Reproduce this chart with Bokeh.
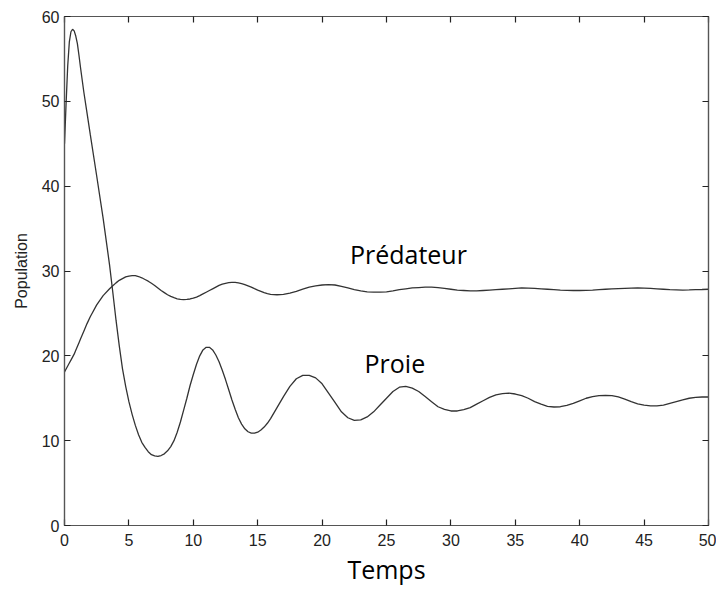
from bokeh.plotting import figure
from bokeh.models import LinearAxis, Label, Range1d, FixedTicker, CustomLabelingPolicy
from bokeh.embed import file_html
from bokeh.resources import INLINE

# ---- data ----
temps = [0, 0.125, 0.25, 0.375, 0.5, 0.625, 0.75, 0.875, 1.0, 1.125, 1.25,
         1.5, 1.75, 2.0, 2.5, 3.0, 3.5, 3.75,
         4.0, 4.25, 4.5, 4.75, 5.0, 5.25, 5.5, 5.75, 6.0, 6.25, 6.5, 6.75, 7.0, 7.25, 7.5, 7.75,
         8.0, 8.25, 8.5, 8.75, 9.0, 9.25, 9.5, 9.75, 10.0, 10.25, 10.5, 10.75, 11.0, 11.25, 11.5, 11.75,
         12.0, 12.25, 12.5, 12.75, 13.0, 13.25, 13.5, 13.75, 14.0, 14.25, 14.5, 14.75, 15.0, 15.25, 15.5, 15.75,
         16.0, 16.5, 17.0, 17.5, 18.0, 18.5, 19.0, 19.5, 20.0, 20.5, 21.0, 21.5, 22.0, 22.5, 23.0, 23.5,
         24.0, 24.5, 25.0, 25.5, 26.0, 26.5, 27.0, 27.5, 28.0, 28.5, 29.0, 29.5, 30.0, 30.5, 31.0, 31.5,
         32.0, 32.5, 33.0, 33.5, 34.0, 34.5, 35.0, 35.5, 36.0, 36.5, 37.0, 37.5, 38.0, 38.5, 39.0, 39.5,
         40.0, 40.5, 41.0, 41.5, 42.0, 42.5, 43.0, 43.5, 44.0, 44.5, 45.0, 45.5, 46.0, 46.5, 47.0, 47.5,
         48.0, 48.5, 49.0, 49.5, 50.0]

proie = [45.0, 49.8, 54.2, 57.0, 58.2, 58.5, 58.3, 57.7, 56.8, 55.4, 53.9,
         51.1, 48.6, 46.1, 41.2, 36.2, 30.7, 27.5,
         24.2, 21.2, 18.5, 16.4, 14.6, 13.1, 11.8, 10.7, 9.8, 9.2, 8.7, 8.35, 8.2, 8.15, 8.25, 8.45,
         8.8, 9.3, 10.0, 11.0, 12.2, 13.6, 15.0, 16.5, 17.8, 19.0, 20.0, 20.7, 21.0, 21.0, 20.7, 20.1,
         19.3, 18.3, 17.2, 16.0, 14.8, 13.7, 12.7, 11.95, 11.4, 11.05, 10.9, 10.88, 11.0, 11.25, 11.6, 12.05,
         12.6, 13.9, 15.2, 16.4, 17.3, 17.7, 17.7, 17.4, 16.7, 15.6, 14.5, 13.4, 12.7, 12.4, 12.45, 12.8,
         13.4, 14.2, 15.0, 15.8, 16.3, 16.4, 16.2, 15.8, 15.2, 14.6, 14.0, 13.7, 13.5, 13.5, 13.65, 13.9,
         14.3, 14.7, 15.1, 15.4, 15.55, 15.6, 15.5, 15.3, 15.0, 14.6, 14.3, 14.05, 13.97, 14.0, 14.15, 14.4,
         14.7, 15.0, 15.2, 15.32, 15.35, 15.3, 15.15, 14.9, 14.6, 14.35, 14.2, 14.1, 14.1, 14.2, 14.4, 14.6,
         14.8, 15.0, 15.1, 15.15, 15.15]

predateur = [18.1, 18.45, 18.8, 19.15, 19.5, 19.85, 20.2, 20.65, 21.1, 21.55, 22.0,
             22.9, 23.8, 24.6, 26.0, 27.1, 27.9, 28.25,
             28.6, 28.9, 29.1, 29.3, 29.4, 29.45, 29.45, 29.35, 29.2, 29.0, 28.8, 28.55, 28.3, 28.0, 27.7, 27.45,
             27.2, 27.0, 26.85, 26.72, 26.65, 26.62, 26.65, 26.7, 26.8, 26.93, 27.1, 27.3, 27.5, 27.7, 27.9, 28.1,
             28.3, 28.45, 28.55, 28.62, 28.65, 28.65, 28.6, 28.52, 28.4, 28.25, 28.1, 27.92, 27.75, 27.6, 27.45, 27.33,
             27.25, 27.2, 27.25, 27.4, 27.6, 27.85, 28.1, 28.25, 28.35, 28.4, 28.35, 28.2, 28.0, 27.8, 27.65, 27.55,
             27.5, 27.5, 27.55, 27.65, 27.8, 27.9, 28.0, 28.05, 28.1, 28.1, 28.05, 27.95, 27.85, 27.75, 27.7, 27.65,
             27.65, 27.7, 27.75, 27.8, 27.85, 27.9, 27.95, 28.0, 27.98, 27.95, 27.9, 27.85, 27.8, 27.75, 27.72, 27.7,
             27.7, 27.72, 27.75, 27.8, 27.85, 27.9, 27.93, 27.96, 27.98, 28.0, 27.98, 27.95, 27.9, 27.85, 27.8, 27.78,
             27.75, 27.77, 27.8, 27.82, 27.85]

x_ticks = [0, 5, 10, 15, 20, 25, 30, 35, 40, 45, 50]
y_ticks = [0, 10, 20, 30, 40, 50, 60]

label_predateur = "Prédateur"
label_proie = "Proie"
x_title = "Temps"
y_title = "Population"

# ---- figure ----
AXIS_COLOR = "#555555"
LINE_COLOR = "#333333"
TICK_FONT = "Liberation Sans"

p = figure(width=716, height=588, x_range=Range1d(0, 50), y_range=Range1d(0, 60),
           output_backend="svg", toolbar_location=None,
           min_border_left=64, min_border_right=8, min_border_top=16, min_border_bottom=63)
p.xgrid.visible = False
p.ygrid.visible = False
p.outline_line_color = AXIS_COLOR
p.outline_line_width = 1.2
p.background_fill_color = "white"
p.border_fill_color = "white"


def style_axis(ax, ticks, show_labels=True):
    ax.ticker = FixedTicker(ticks=ticks)
    ax.major_tick_in = 6
    ax.major_tick_out = 0
    ax.minor_tick_in = 0
    ax.minor_tick_out = 0
    ax.minor_tick_line_color = None
    ax.axis_line_color = AXIS_COLOR
    ax.axis_line_width = 1.2
    ax.major_tick_line_color = "#222222"
    ax.major_tick_line_width = 1.2
    ax.major_label_text_font = TICK_FONT
    ax.major_label_text_color = "#222222"
    if show_labels:
        ax.major_label_text_font_size = "16px"
    else:
        ax.major_label_text_font_size = "1px"
        ax.major_label_policy = CustomLabelingPolicy(code="return []")
        ax.major_label_standoff = 0


xa = p.xaxis[0]
ya = p.yaxis[0]
style_axis(xa, x_ticks)
style_axis(ya, y_ticks)
xa.major_label_standoff = 8
ya.major_label_standoff = 5

xa.axis_label = x_title
xa.axis_label_text_font = "Open Sans"
xa.axis_label_text_font_style = "normal"
xa.axis_label_text_font_size = "25px"
xa.axis_label_text_color = "#000000"
xa.axis_label_standoff = 3

ya.axis_label = y_title
ya.axis_label_text_font = TICK_FONT
ya.axis_label_text_font_style = "normal"
ya.axis_label_text_font_size = "16px"
ya.axis_label_text_color = "#222222"
ya.axis_label_standoff = 9

ra = LinearAxis()
style_axis(ra, y_ticks, show_labels=False)
p.add_layout(ra, "right")
ta = LinearAxis()
style_axis(ta, x_ticks, show_labels=False)
p.add_layout(ta, "above")

p.line(temps, proie, line_color=LINE_COLOR, line_width=1.3)
p.line(temps, predateur, line_color=LINE_COLOR, line_width=1.3)

p.add_layout(Label(x=26.7, y=32.0, text=label_predateur, text_align="center",
                   text_baseline="alphabetic", text_font="Open Sans",
                   text_font_size="25px", text_color="#000000"))
p.add_layout(Label(x=25.65, y=19.2, text=label_proie, text_align="center",
                   text_baseline="alphabetic", text_font="Open Sans",
                   text_font_size="25px", text_color="#000000"))

open("out.html", "w").write(file_html(p, INLINE))
